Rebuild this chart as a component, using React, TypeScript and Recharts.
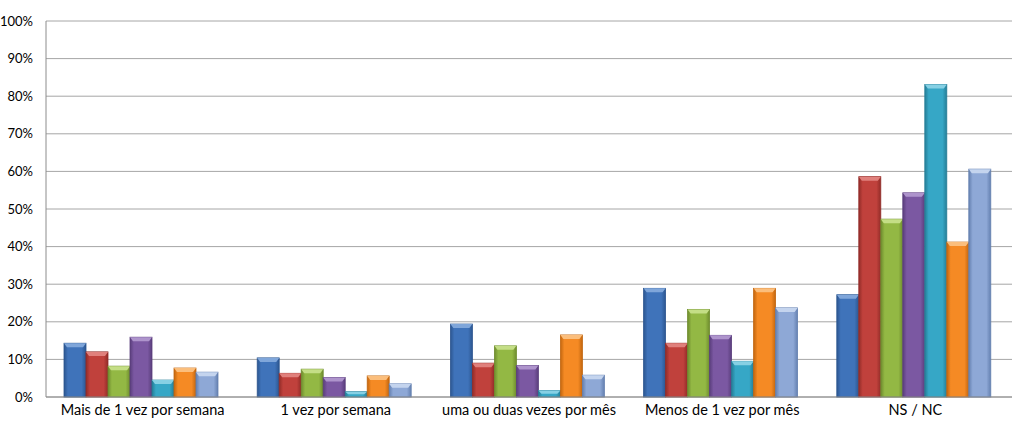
import { Bar, BarChart, CartesianGrid, XAxis, YAxis } from "recharts";

const CATEGORIES = [
  "Mais de 1 vez por semana",
  "1 vez por semana",
  "uma ou duas vezes por mês",
  "Menos de 1 vez por mês",
  "NS / NC",
];

const S1 = [14.3, 10.4, 19.4, 28.9, 27.2];
const S2 = [12.0, 6.3, 9.0, 14.3, 58.6];
const S3 = [8.2, 7.4, 13.6, 23.3, 47.3];
const S4 = [15.9, 5.2, 8.4, 16.4, 54.3];
const S5 = [4.5, 1.4, 1.7, 9.5, 83.1];
const S6 = [7.7, 5.6, 16.5, 28.9, 41.2];
const S7 = [6.6, 3.5, 5.8, 23.7, 60.6];

const Y_TICKS = [0, 10, 20, 30, 40, 50, 60, 70, 80, 90, 100];

const SERIES = [
  { key: "s1", values: S1, base: "#3F73BA", dark: "#2C5690", light: "#7FA6DA" },
  { key: "s2", values: S2, base: "#C0413C", dark: "#922C28", light: "#E0807C" },
  { key: "s3", values: S3, base: "#93B844", dark: "#6E8C2E", light: "#C4DE86" },
  { key: "s4", values: S4, base: "#7B58A2", dark: "#5A3E7C", light: "#AE94CC" },
  { key: "s5", values: S5, base: "#36A7C6", dark: "#257E97", light: "#86D0E4" },
  { key: "s6", values: S6, base: "#F58A24", dark: "#C2660F", light: "#FBBE7C" },
  { key: "s7", values: S7, base: "#8EA8D6", dark: "#6480B0", light: "#C4D4EE" },
];

const DATA = CATEGORIES.map((name, i) => {
  const row: Record<string, string | number> = { name };
  SERIES.forEach((s) => (row[s.key] = s.values[i]));
  return row;
});

function bevelShape(s: (typeof SERIES)[number]) {
  return (props: any) => {
    const { x, y, width, height } = props;
    if (!height || height <= 0) return <g />;
    const b = Math.min(4, height / 2);
    return (
      <g>
        <rect x={x} y={y} width={width} height={height} fill={`url(#grad-${s.key})`} stroke={s.dark} strokeWidth={0.8} />
        <polygon
          points={`${x},${y} ${x + width},${y} ${x + width - 3},${y + b} ${x + 3},${y + b}`}
          fill={s.light}
        />
      </g>
    );
  };
}

export default function App() {
  return (
    <div style={{ position: "absolute", left: 0, top: 0, background: "#fff" }}>
      <BarChart
        width={1024}
        height={426}
        data={DATA}
        margin={{ top: 21, right: 12, left: 0, bottom: 0 }}
        barCategoryGap={18}
        barGap={0}
        style={{ fontFamily: "Lato, 'Open Sans', sans-serif" }}
      >
        <defs>
          {SERIES.map((s) => (
            <linearGradient key={s.key} id={`grad-${s.key}`} x1="0" y1="0" x2="1" y2="0">
              <stop offset="0%" stopColor={s.dark} />
              <stop offset="18%" stopColor={s.base} />
              <stop offset="80%" stopColor={s.base} />
              <stop offset="100%" stopColor={s.dark} />
            </linearGradient>
          ))}
        </defs>
        <CartesianGrid vertical={false} stroke="#A6A6A6" strokeWidth={1} />
        <XAxis
          dataKey="name"
          height={29}
          tickLine={false}
          axisLine={{ stroke: "#8C8C8C" }}
          tick={{ fontSize: 14.5, fill: "#000" }}
          interval={0}
        />
        <YAxis
          width={46}
          domain={[0, 100]}
          ticks={Y_TICKS}
          tickFormatter={(v: number) => `${v}%`}
          tickLine={false}
          tickMargin={7}
          axisLine={{ stroke: "#8C8C8C" }}
          tick={{ fontSize: 13, fill: "#000" }}
        />
        {SERIES.map((s) => (
          <Bar key={s.key} dataKey={s.key} fill={s.base} shape={bevelShape(s)} isAnimationActive={false} />
        ))}
      </BarChart>
    </div>
  );
}
